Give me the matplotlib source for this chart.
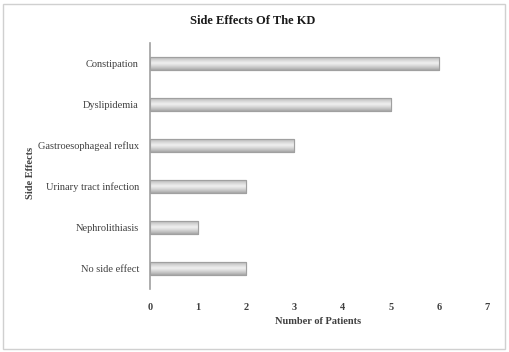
import matplotlib
matplotlib.use("Agg")
import matplotlib.pyplot as plt
import numpy as np
from matplotlib.patches import Rectangle

# data
effects = ["No side effect", "Nephrolithiasis", "Urinary tract infection",
           "Gastroesophageal reflux", "Dyslipidemia", "Constipation"]
patients = [2, 1, 2, 3, 5, 6]

plt.rcParams['font.family'] = ['Liberation Serif', 'DejaVu Serif']

fig = plt.figure(figsize=(5.09, 3.52), dpi=100)
ax = fig.add_axes([150/509, 1-289/352, 337/509, 246/352])

bars = ax.barh(np.arange(len(effects)), patients, height=0.34,
               color='#d8d8d8', edgecolor='#a0a0a0', linewidth=0.8, zorder=2)

# vertical gradient inside each bar (darker edges, light centre)
grad = np.abs(np.linspace(-1, 1, 64))[:, None]
for b in bars:
    x0, y0 = b.get_x(), b.get_y()
    w, h = b.get_width(), b.get_height()
    im = ax.imshow(grad, cmap='Greys', vmin=-0.35, vmax=2.6, aspect='auto',
                   extent=[x0, x0 + w, y0, y0 + h], zorder=2.5,
                   interpolation='bicubic')
    im.set_clip_path(b)
    ax.add_patch(Rectangle((x0, y0), w, h, fill=False, edgecolor='#a0a0a0',
                           linewidth=0.8, zorder=3))

ax.set_xlim(0, 7)
ax.set_ylim(-0.5, len(effects) - 0.5)
ax.set_xticks(range(8))
ax.set_yticks(np.arange(len(effects)))
ax.set_yticklabels(effects, fontsize=7.5, color='#404040')
for t in ax.get_xticklabels():
    t.set_fontweight('bold')
ax.tick_params(axis='x', length=0, labelsize=7.5, labelcolor='#404040', pad=10)
ax.tick_params(axis='y', length=0, pad=8)

for s in ['top', 'right', 'bottom']:
    ax.spines[s].set_visible(False)
ax.spines['left'].set_color('#a0a0a0')
ax.spines['left'].set_linewidth(1.2)

ax.set_xlabel('Number of Patients', fontsize=7.5, fontweight='bold',
              color='#404040', labelpad=4)
ax.set_ylabel('Side Effects', fontsize=7.5, fontweight='bold', color='#404040')
ax.yaxis.set_label_coords(-0.34, 0.47)

fig.text(253/509, 1-21/352, 'Side Effects Of The KD', ha='center', va='center',
         fontsize=9, fontweight='bold', color='#1a1a1a')

# outer border of the chart area
fig.add_artist(Rectangle((3/509, 3/352), 502/509, 345/352, transform=fig.transFigure,
                         fill=False, edgecolor='#d0d0d0', linewidth=1))

fig.savefig('out.png', dpi=100)
